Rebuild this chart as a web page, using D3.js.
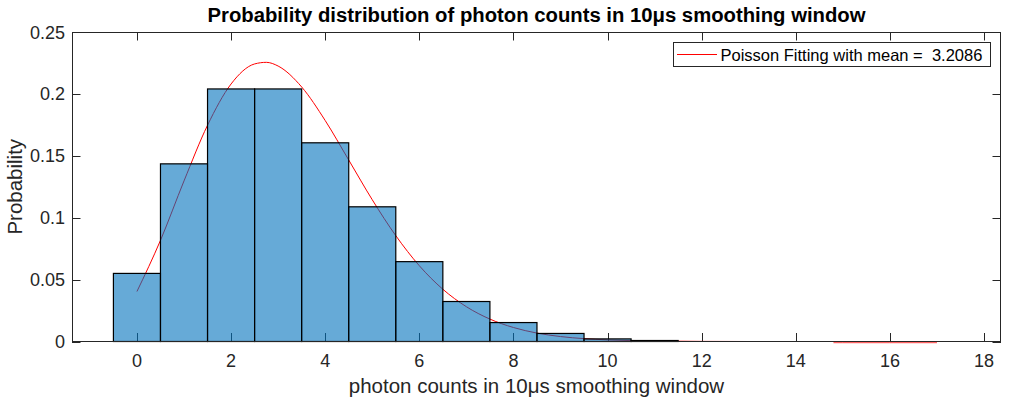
<!DOCTYPE html>
<html>
<head>
<meta charset="utf-8">
<script src="https://cdn.jsdelivr.net/npm/d3@7"></script>
<style>
  html, body { margin: 0; padding: 0; background: #fff; }
  svg { display: block; font-family: "Liberation Sans", Arial, Helvetica, sans-serif; }
</style>
</head>
<body>
<svg id="chart" width="1014" height="400"></svg>
<script>
// ---- Data ----
const binCenters = [0, 1, 2, 3, 4, 5, 6, 7, 8, 9, 10, 11, 12, 13, 14, 15, 16, 17];
const binProbs   = [0.0550, 0.1435, 0.2040, 0.2040, 0.1605, 0.1088, 0.0645, 0.0323, 0.0153, 0.0065, 0.0021, 0.0008, 0, 0, 0, 0, 0, 0];

const fitX = [0, 0.5, 1, 1.5, 2, 2.5, 2.75, 3, 3.5, 4, 4.5, 5, 5.5, 6, 6.5, 7, 7.5, 8, 8.5, 9, 9.5, 10, 11, 12, 13, 14, 15, 16, 17];
const fitY = [0.0404, 0.0817, 0.1297, 0.1747, 0.2080, 0.2242, 0.2255, 0.2225, 0.2056, 0.1785, 0.1466, 0.1145, 0.0855, 0.0612, 0.0422, 0.0281, 0.0181, 0.0113, 0.0068, 0.0040, 0.0023, 0.0013, 0.0004, 0.0001, 0, 0, 0, 0, 0];

const xTicks = [0, 2, 4, 6, 8, 10, 12, 14, 16, 18];
const yTicks = [0, 0.05, 0.1, 0.15, 0.2, 0.25];
const yTickLabels = ["0", "0.05", "0.1", "0.15", "0.2", "0.25"];

const titleText = "Probability distribution of photon counts in 10μs smoothing window";
const xLabelText = "photon counts in 10μs smoothing window";
const yLabelText = "Probability";
const legendText = "Poisson Fitting with mean =  3.2086";

// ---- Layout ----
const L = 72, R = 1001, T = 32, B = 341.5;
const svg = d3.select("#chart");
const x = d3.scaleLinear().domain([-1.38, 18.36]).range([L, R]);
const y = d3.scaleLinear().domain([0, 0.25]).range([B, T]);
const axisColor = "#262626";
const tickLen = 8.5;

// ticks (drawn under the bars)
const gTicks = svg.append("g").attr("stroke", axisColor).attr("stroke-width", 1);
xTicks.forEach(t => {
  const px = Math.round(x(t)) + 0.5;
  gTicks.append("line").attr("x1", px).attr("x2", px).attr("y1", B).attr("y2", B - tickLen);
  gTicks.append("line").attr("x1", px).attr("x2", px).attr("y1", T).attr("y2", T + tickLen);
});
yTicks.forEach(t => {
  const py = Math.round(y(t)) + 0.5;
  gTicks.append("line").attr("x1", L).attr("x2", L + tickLen).attr("y1", py).attr("y2", py);
  gTicks.append("line").attr("x1", R).attr("x2", R - tickLen).attr("y1", py).attr("y2", py);
});

// fit curve (under semi-transparent bars)
const line = d3.line().x((d, i) => x(fitX[i])).y(d => y(d)).curve(d3.curveMonotoneX);
svg.append("path")
  .attr("d", line(fitY))
  .attr("fill", "none")
  .attr("stroke", "#ff0000")
  .attr("stroke-width", 1);

// bars
svg.append("g").selectAll("rect")
  .data(binCenters)
  .join("rect")
  .attr("x", (d) => x(d - 0.5))
  .attr("width", (d) => x(d + 0.5) - x(d - 0.5))
  .attr("y", (d, i) => y(binProbs[i]))
  .attr("height", (d, i) => y(0) - y(binProbs[i]))
  .attr("fill", "#0072BD")
  .attr("fill-opacity", 0.6)
  .attr("stroke", "#000")
  .attr("stroke-width", 1.2);

// axes box
svg.append("rect")
  .attr("x", L + 0.5).attr("y", T + 0.5)
  .attr("width", R - L - 1).attr("height", B - T - 0.5)
  .attr("fill", "none").attr("stroke", axisColor).attr("stroke-width", 1);

// visible tail of the fit curve along the baseline (as seen in the reference)
svg.append("clipPath").attr("id", "tailClip")
  .append("rect")
  .attr("x", x(14.8)).attr("y", T).attr("width", x(17) - x(14.8)).attr("height", B - T + 4);
svg.append("path")
  .attr("d", line(fitY))
  .attr("clip-path", "url(#tailClip)")
  .attr("transform", "translate(0,1.2)")
  .attr("fill", "none")
  .attr("stroke", "#ff4040")
  .attr("stroke-width", 1);

// tick labels
svg.append("g").selectAll("text").data(xTicks).join("text")
  .attr("x", d => x(d)).attr("y", 367)
  .attr("text-anchor", "middle")
  .attr("font-size", 18).attr("fill", axisColor)
  .text(d => d);
svg.append("g").selectAll("text").data(yTicks).join("text")
  .attr("x", 65).attr("y", d => y(d) + 6.5)
  .attr("text-anchor", "end")
  .attr("font-size", 18).attr("fill", axisColor)
  .text((d, i) => yTickLabels[i]);

// axis labels
svg.append("text")
  .attr("x", (L + R) / 2).attr("y", 393)
  .attr("text-anchor", "middle")
  .attr("font-size", 20.5).attr("fill", axisColor)
  .text(xLabelText);
svg.append("text")
  .attr("transform", `translate(22, ${(T + B) / 2}) rotate(-90)`)
  .attr("text-anchor", "middle")
  .attr("font-size", 20.5).attr("fill", axisColor)
  .text(yLabelText);

// title
svg.append("text")
  .attr("x", (L + R) / 2).attr("y", 22)
  .attr("text-anchor", "middle")
  .attr("font-size", 20.3).attr("font-weight", "bold").attr("fill", "#000")
  .text(titleText);

// legend
const lg = svg.append("g");
lg.append("rect")
  .attr("x", 673.5).attr("y", 42.5).attr("width", 317).attr("height", 24)
  .attr("fill", "#fff").attr("stroke", axisColor).attr("stroke-width", 1);
lg.append("line")
  .attr("x1", 677).attr("x2", 717).attr("y1", 54.5).attr("y2", 54.5)
  .attr("stroke", "#ff0000").attr("stroke-width", 1);
lg.append("text")
  .attr("x", 720.5).attr("y", 60.5)
  .attr("font-size", 16.5).attr("fill", "#000")
  .attr("xml:space", "preserve")
  .style("white-space", "pre")
  .text(legendText);
</script>
</body>
</html>
